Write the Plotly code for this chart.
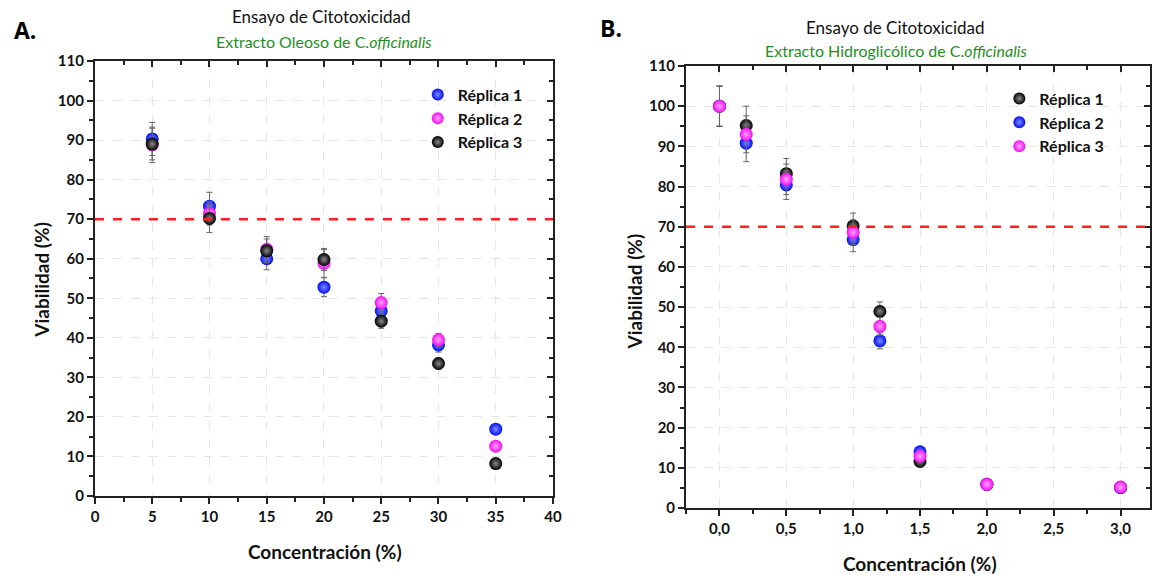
import plotly.graph_objects as go

# ---------------- data ----------------
# Panel A: Extracto Oleoso
conc_a = [5, 10, 15, 20, 25, 30, 35]
a_rep1 = [90.3, 73.3, 60.0, 52.8, 46.8, 38.2, 16.9]
a_rep2 = [88.8, 71.5, 62.4, 58.8, 48.9, 39.5, 12.6]
a_rep3 = [89.0, 70.2, 62.0, 59.8, 44.2, 33.5, 8.2]
a_err1 = [4.2, 3.5, 2.8, 2.4, 2.0, 1.8, 0.8]
a_err2 = [4.5, 3.0, 3.2, 3.5, 2.3, 1.6, 0.8]
a_err3 = [4.0, 3.6, 3.0, 2.8, 1.8, 1.4, 0.6]

# Panel B: Extracto Hidroglicólico
conc_b = [0.0, 0.2, 0.5, 1.0, 1.2, 1.5, 2.0, 3.0]
b_rep1 = [100, 95.2, 83.2, 70.2, 48.9, 11.6, 5.9, 5.1]
b_rep2 = [100, 90.8, 80.4, 66.8, 41.6, 14.0, 5.9, 5.1]
b_rep3 = [100, 93.0, 81.8, 68.6, 45.2, 12.9, 5.9, 5.2]
b_err1 = [5.0, 4.8, 3.8, 3.2, 2.4, 0.6, 0.5, 0.5]
b_err2 = [5.0, 4.6, 3.6, 3.0, 2.0, 0.6, 0.5, 0.5]
b_err3 = [5.0, 4.6, 3.8, 3.1, 2.2, 0.6, 0.5, 0.5]

threshold = 70

a_xticks = [0, 5, 10, 15, 20, 25, 30, 35, 40]
a_xticktext = ["0", "5", "10", "15", "20", "25", "30", "35", "40"]
b_xticks = [0.0, 0.5, 1.0, 1.5, 2.0, 2.5, 3.0]
b_xticktext = ["0,0", "0,5", "1,0", "1,5", "2,0", "2,5", "3,0"]
yticks = [0, 10, 20, 30, 40, 50, 60, 70, 80, 90, 100, 110]

BLUE = ("#0010f0", "#8088ff")
MAGENTA = ("#f010f0", "#ffa0ff")
BLACK = ("#000000", "#8a8a8a")
GREEN = "#1f8f1f"
AXC = "#222222"
FONT = "Lato"

fig = go.Figure()


def add_series(x, y, err, color, name, xa, ya, legend):
    fig.add_trace(go.Scatter(
        x=x, y=y, mode="markers", name=name,
        xaxis=xa, yaxis=ya, legend=legend,
        marker=dict(size=13, color=color[0],
                    gradient=dict(type="radial", color=color[1]),
                    line=dict(width=0)),
        error_y=dict(type="data", array=err, visible=True,
                     color="#666666", thickness=1, width=3),
    ))


add_series(conc_a, a_rep1, a_err1, BLUE, "Réplica 1", "x", "y", "legend")
add_series(conc_a, a_rep2, a_err2, MAGENTA, "Réplica 2", "x", "y", "legend")
add_series(conc_a, a_rep3, a_err3, BLACK, "Réplica 3", "x", "y", "legend")

add_series(conc_b, b_rep1, b_err1, BLACK, "Réplica 1", "x2", "y2", "legend2")
add_series(conc_b, b_rep2, b_err2, BLUE, "Réplica 2", "x2", "y2", "legend2")
add_series(conc_b, b_rep3, b_err3, MAGENTA, "Réplica 3", "x2", "y2", "legend2")

# dummy traces so that mirrored (inside-tick) axes get drawn
fig.add_trace(go.Scatter(x=[None], y=[None], xaxis="x3", yaxis="y3",
                         showlegend=False, hoverinfo="skip"))
fig.add_trace(go.Scatter(x=[None], y=[None], xaxis="x4", yaxis="y4",
                         showlegend=False, hoverinfo="skip"))

dom_ax = [0.0823, 0.4792]
dom_ay = [0.1434, 0.8946]
dom_bx = [0.5945, 0.9965]
dom_by = [0.1226, 0.886]

tickfont = dict(family=FONT, size=15, color="#111111", weight="bold")
base_axis = dict(showline=True, linecolor=AXC, linewidth=2, automargin=False,
                 ticks="outside", tickcolor=AXC, ticklen=6, tickwidth=2,
                 showgrid=True, gridcolor="#e6e6e6", griddash="dash", gridwidth=1,
                 zeroline=False, tickfont=tickfont, mirror=True)
over_axis = dict(ticks="inside", ticklen=6, tickwidth=2, automargin=False,
                 tickcolor=AXC, showticklabels=False, showgrid=False,
                 zeroline=False, showline=False)

xa_range = [0, 40]
xb_range = [-0.25, 3.22]
y_range = [0, 110]


def minor(dt, direction):
    return dict(dtick=dt, tick0=0, ticks=direction, ticklen=4,
                tickcolor=AXC, showgrid=False)


fig.update_layout(
    width=1154, height=579,
    margin=dict(l=0, r=0, t=0, b=0, autoexpand=False),
    paper_bgcolor="white", plot_bgcolor="white",
    showlegend=True,
    xaxis=dict(base_axis, domain=dom_ax, range=xa_range, anchor="y",
               tickvals=a_xticks, ticktext=a_xticktext, minor=minor(2.5, "outside")),
    yaxis=dict(base_axis, domain=dom_ay, range=y_range, anchor="x",
               tickvals=yticks, minor=minor(5, "outside")),
    xaxis2=dict(base_axis, domain=dom_bx, range=xb_range, anchor="y2",
                tickvals=b_xticks, ticktext=b_xticktext, minor=minor(0.25, "outside")),
    yaxis2=dict(base_axis, domain=dom_by, range=y_range, anchor="x2",
                tickvals=yticks, minor=minor(5, "outside")),
    xaxis3=dict(over_axis, overlaying="x", side="top", anchor="y3", range=xa_range,
                tickvals=a_xticks, minor=minor(2.5, "inside")),
    yaxis3=dict(over_axis, overlaying="y", side="right", anchor="x3", range=y_range,
                tickvals=yticks, minor=minor(5, "inside")),
    xaxis4=dict(over_axis, overlaying="x2", side="top", anchor="y4", range=xb_range,
                tickvals=b_xticks, minor=minor(0.25, "inside")),
    yaxis4=dict(over_axis, overlaying="y2", side="right", anchor="x4", range=y_range,
                tickvals=yticks, minor=minor(5, "inside")),
    legend=dict(x=0.362, y=0.866, xanchor="left", yanchor="top",
                bgcolor="rgba(0,0,0,0)", itemsizing="constant",
                font=dict(family=FONT, size=16, color="#111111", weight="bold"),
                tracegroupgap=0),
    legend2=dict(x=0.866, y=0.859, xanchor="left", yanchor="top",
                 bgcolor="rgba(0,0,0,0)", itemsizing="constant",
                 font=dict(family=FONT, size=16, color="#111111", weight="bold"),
                 tracegroupgap=0),
)

# threshold lines
for xr, yr in (("x domain", "y"), ("x2 domain", "y2")):
    fig.add_shape(type="line", xref=xr, yref=yr, x0=0, x1=1,
                  y0=threshold, y1=threshold,
                  line=dict(color="#ff2020", width=2.5, dash="dash"))

ann = []
# panel letters
ann.append(dict(text="<b>A.</b>", x=0.010, y=0.948, font=dict(family="Open Sans", size=23, color="#000")))
ann.append(dict(text="<b>B.</b>", x=0.518, y=0.952, font=dict(family="Open Sans", size=23, color="#000")))
# titles
ann.append(dict(text="Ensayo de Citotoxicidad", x=0.279, y=0.971, xanchor="center",
                font=dict(family=FONT, size=17, color="#111")))
ann.append(dict(text="Extracto Oleoso de C.<i>officinalis</i>", x=0.281, y=0.929, xanchor="center",
                font=dict(family=FONT, size=16, color=GREEN)))
ann.append(dict(text="Ensayo de Citotoxicidad", x=0.776, y=0.953, xanchor="center",
                font=dict(family=FONT, size=17, color="#111")))
ann.append(dict(text="Extracto Hidroglicólico de C.<i>officinalis</i>", x=0.776, y=0.912, xanchor="center",
                font=dict(family=FONT, size=16, color=GREEN)))
# axis titles
ann.append(dict(text="Viabilidad (%)", x=0.036, y=0.516, textangle=-90, xanchor="center",
                font=dict(family=FONT, size=19, color="#111", weight="bold")))
ann.append(dict(text="Viabilidad (%)", x=0.550, y=0.496, textangle=-90, xanchor="center",
                font=dict(family=FONT, size=19, color="#111", weight="bold")))
ann.append(dict(text="Concentración (%)", x=0.282, y=0.047, xanchor="center",
                font=dict(family=FONT, size=19, color="#111", weight="bold")))
ann.append(dict(text="Concentración (%)", x=0.797, y=0.026, xanchor="center",
                font=dict(family=FONT, size=19, color="#111", weight="bold")))

for a in ann:
    a.setdefault("xanchor", "left")
    fig.add_annotation(xref="paper", yref="paper", showarrow=False, yanchor="middle", **a)

fig.write_html("out.html", config={"displayModeBar": False},
               post_script="document.body.style.margin='0px';")
